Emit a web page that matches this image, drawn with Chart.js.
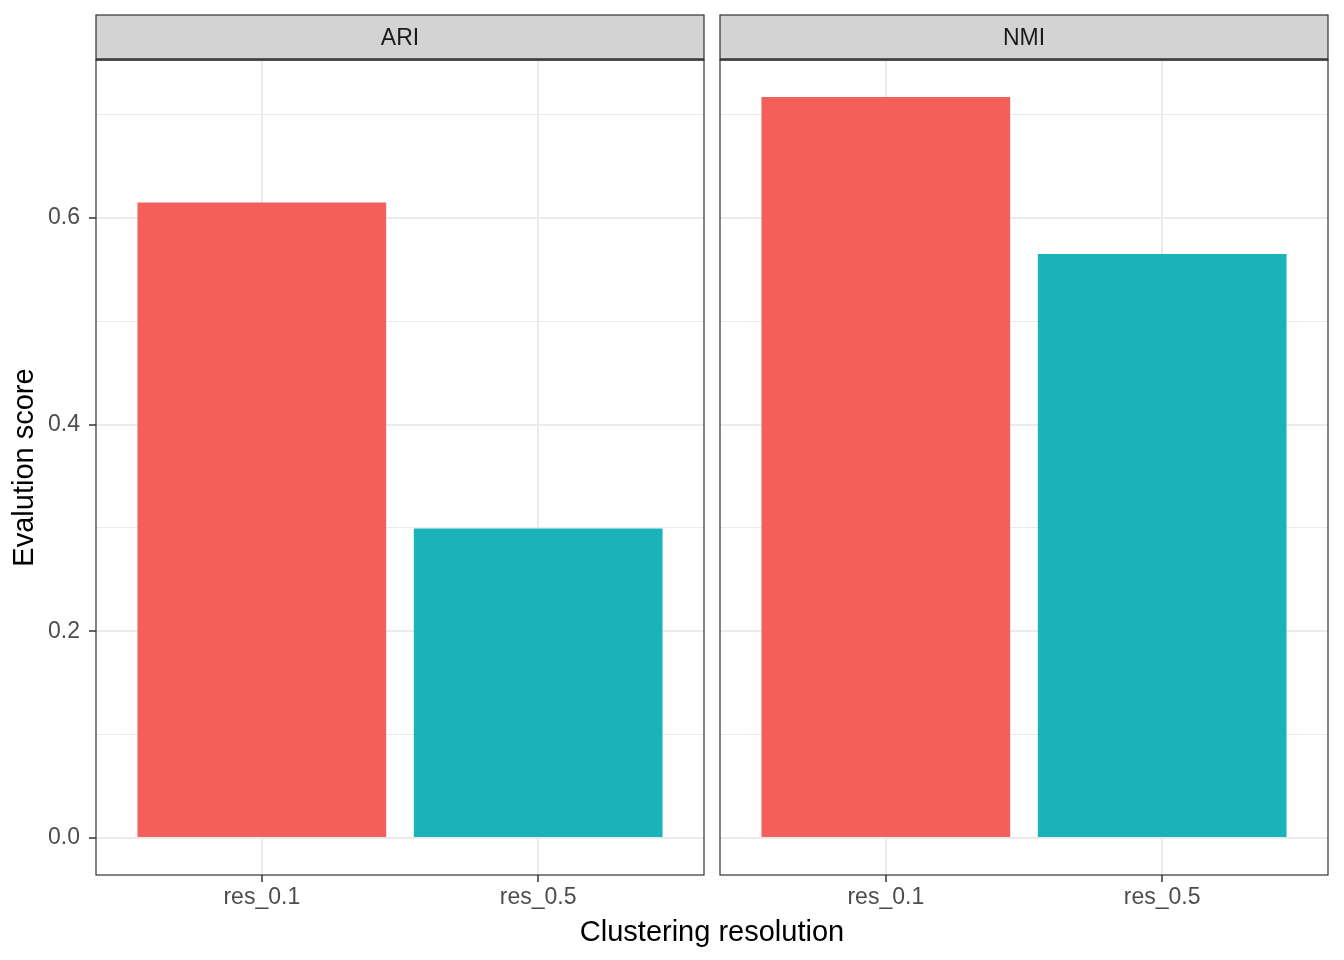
<!DOCTYPE html>
<html>
<head>
<meta charset="utf-8">
<script src="https://cdn.jsdelivr.net/npm/chart.js@4.4.0/dist/chart.umd.min.js"></script>
<style>
  body { margin: 0; background: #fff; width: 1344px; height: 960px; position: relative; overflow: hidden; font-family: "Liberation Sans", Arial, sans-serif; }
  .painel { position: absolute; top: 0; width: 720px; height: 960px; }
  #titulo-x { position: absolute; left: 412px; width: 600px; top: 914px; text-align: center; font-size: 29px; line-height: 34px; color: #000; }
</style>
</head>
<body>
<div class="painel" style="left:0"><canvas id="graficoARI"></canvas></div>
<div class="painel" style="left:624px"><canvas id="graficoNMI"></canvas></div>
<div id="titulo-x">Clustering resolution</div>
<script>
// dados
const categorias = ['res_0.1', 'res_0.5'];
const valoresARI = [0.615, 0.2995];
const valoresNMI = [0.717, 0.565];
const ticksY = [0, 0.1, 0.2, 0.3, 0.4, 0.5, 0.6, 0.7];
const cores = ['#F35F5B', '#19B3B9'];

Chart.defaults.font.family = "'Liberation Sans', Arial, sans-serif";

// expansao de 5% como no ggplot
const yMax = Math.max(...valoresARI, ...valoresNMI);
const folga = yMax * 0.05;

// faixa cinza do facet + borda do painel
const pluginPainel = {
  id: 'painel',
  beforeDraw(chart) {
    const { ctx, chartArea: a } = chart;
    ctx.save();
    ctx.fillStyle = '#D3D3D3';
    ctx.fillRect(a.left, 15, a.width, a.top - 15);
    ctx.restore();
  },
  afterDraw(chart) {
    const { ctx, chartArea: a } = chart;
    ctx.save();
    ctx.strokeStyle = '#333333';
    ctx.lineWidth = 1.2;
    ctx.strokeRect(a.left, 15, a.width, a.top - 15);
    ctx.strokeRect(a.left, a.top, a.width, a.height);
    ctx.beginPath();
    ctx.moveTo(a.left, a.top - 1.2);
    ctx.lineTo(a.right, a.top - 1.2);
    ctx.stroke();
    ctx.restore();
  }
};

function criarGrafico(id, titulo, valores, mostrarEixoY) {
  return new Chart(document.getElementById(id), {
    type: 'bar',
    data: {
      datasets: [{
        data: valores.map((v, i) => ({ x: i + 1, y: v })),
        backgroundColor: cores,
        borderWidth: 0,
        barPercentage: 0.9,
        categoryPercentage: 1
      }]
    },
    options: {
      responsive: true,
      maintainAspectRatio: false,
      animation: false,
      layout: { padding: { top: 0, right: 16, bottom: 0, left: 0 } },
      scales: {
        x: {
          type: 'linear',
          offset: false,
          min: 0.4,
          max: 2.6,
          afterBuildTicks: s => { s.ticks = categorias.map((c, i) => ({ value: i + 1 })); },
          afterFit: s => { s.height = 85; },
          ticks: {
            callback: v => categorias[v - 1],
            color: '#4D4D4D',
            font: { size: 23 },
            padding: 2,
            autoSkip: false,
            maxRotation: 0
          },
          grid: { color: '#EBEBEB', lineWidth: 2, tickColor: '#333333', tickLength: 7, tickWidth: 1.5, offset: false },
          border: { display: false }
        },
        y: {
          min: -folga,
          max: yMax + folga,
          afterBuildTicks: s => { s.ticks = ticksY.map(v => ({ value: v })); },
          afterFit: s => { s.width = 96; },
          ticks: {
            display: mostrarEixoY,
            callback: (v, i) => (i % 2 === 0 ? v.toFixed(1) : ''),
            color: '#4D4D4D',
            font: { size: 23 },
            padding: 9,
            autoSkip: false
          },
          grid: {
            color: '#EBEBEB',
            lineWidth: c => (c.index % 2 ? 1 : 2),
            tickColor: c => (mostrarEixoY && c.index % 2 === 0 ? '#333333' : 'rgba(0,0,0,0)'),
            tickLength: 7,
            tickWidth: 1.5
          },
          border: { display: false },
          title: {
            display: mostrarEixoY,
            text: 'Evalution score',
            color: '#000',
            font: { size: 29 },
            padding: { top: 8, bottom: 0 }
          }
        }
      },
      plugins: {
        legend: { display: false },
        tooltip: { enabled: false },
        title: {
          display: true,
          text: titulo,
          fullSize: false,
          color: '#1A1A1A',
          font: { size: 23, weight: 'normal' },
          padding: { top: 24.7, bottom: 7.7 }
        }
      }
    },
    plugins: [pluginPainel]
  });
}

criarGrafico('graficoARI', 'ARI', valoresARI, true);
criarGrafico('graficoNMI', 'NMI', valoresNMI, false);
</script>
</body>
</html>
